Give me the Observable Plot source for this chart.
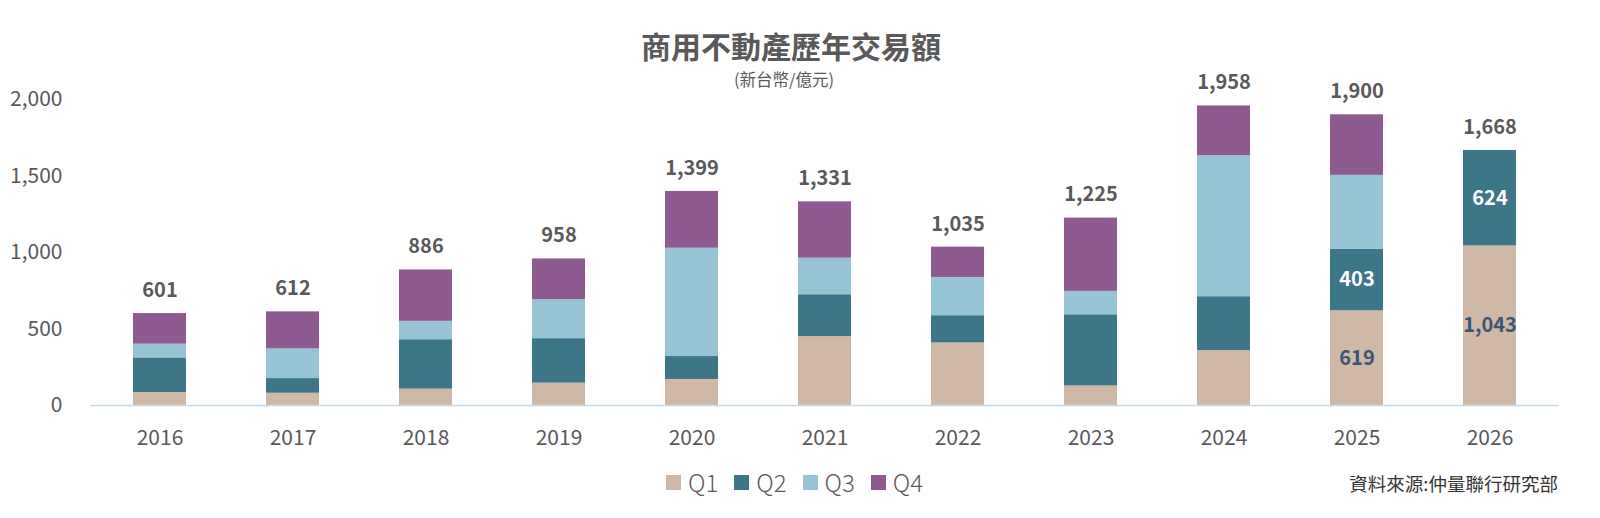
<!DOCTYPE html>
<html>
<head>
<meta charset="utf-8">
<script src="https://cdn.jsdelivr.net/npm/d3@7"></script>
<script src="https://cdn.jsdelivr.net/npm/@observablehq/plot@0.6"></script>
<style>
  html, body { margin: 0; padding: 0; background: #fff; }
  #wrap { position: relative; width: 1600px; height: 518px; overflow: hidden; font-family: 'Noto Sans CJK TC', 'Noto Sans', sans-serif; }
  #chart { position: absolute; left: 0; top: 0; }
  .title { position: absolute; left: 0; width: 1582px; top: 25px; text-align: center; font-size: 30px; font-weight: 700; color: #595959; line-height: 40px; }
  .subtitle { position: absolute; left: 0; width: 1568px; top: 68px; text-align: center; font-size: 16.5px; color: #595959; line-height: 22px; }
  .legend { position: absolute; left: 666px; top: 468px; display: flex; align-items: center; font-size: 24px; font-weight: 300; color: #595959; line-height: 28px; }
  .legend .item { display: flex; align-items: center; margin-right: 16px; }
  .legend .sw { width: 15px; height: 15px; margin-right: 7px; }
  .caption { position: absolute; right: 42px; top: 469px; font-size: 18.5px; color: #333; line-height: 28px; }
</style>
</head>
<body>
<div id="wrap">
  <div id="chart"></div>
  <div class="title">商用不動產歷年交易額</div>
  <div class="subtitle">(新台幣/億元)</div>
  <div class="legend" id="legend"></div>
  <div class="caption">資料來源:仲量聯行研究部</div>
</div>
<script>
const years = ["2016","2017","2018","2019","2020","2021","2022","2023","2024","2025","2026"];
const quarters = ["Q1","Q2","Q3","Q4"];
const colors = ["#cfb8a6","#3e7689","#96c4d4","#8f5991"];
const q1 = [85, 80, 107, 146, 170, 450, 409, 128, 359, 619, 1043];
const q2 = [226, 96, 323, 291, 150, 274, 178, 465, 352, 403, 624];
const q3 = [90, 194, 120, 255, 708, 239, 250, 153, 922, 482, null];
const q4 = [200, 242, 336, 266, 371, 368, 198, 479, 325, 396, null];
const totals = [601, 612, 886, 958, 1399, 1331, 1035, 1225, 1958, 1900, 1668];
const labeledYears = ["2025", "2026"];
const yTicks = [0, 500, 1000, 1500, 2000];

const series = [q1, q2, q3, q4];
const rows = [];
years.forEach((yr, i) => {
  quarters.forEach((q, k) => {
    const v = series[k][i];
    if (v != null) rows.push({year: yr, quarter: q, value: v});
  });
});
const totalRows = years.map((yr, i) => ({year: yr, total: totals[i]}));
const fmt = d3.format(",");

const chart = Plot.plot({
  width: 1600,
  height: 518,
  marginTop: 99,
  marginBottom: 113,
  marginLeft: 90,
  marginRight: 41,
  style: {fontFamily: "'Noto Sans CJK TC', 'Noto Sans', sans-serif", fontSize: "21px", color: "#595959", background: "transparent"},
  x: {domain: years, paddingInner: 0.6, paddingOuter: 0.3, label: null},
  y: {domain: [0, 2000], label: null},
  color: {domain: quarters, range: colors},
  marks: [
    Plot.barY(rows, Plot.stackY({x: "year", y: "value", z: "quarter", fill: "quarter", order: quarters})),
    Plot.ruleY([0], {stroke: "#c6dbe8", strokeWidth: 1.5}),
    Plot.axisY({ticks: yTicks, tickSize: 0, tickPadding: 28, tickFormat: d => fmt(d), fontSize: 21, label: null}),
    Plot.axisX({tickSize: 0, tickPadding: 25, fontSize: 21, label: null}),
    Plot.text(totalRows, {x: "year", y: "total", text: d => fmt(d.total), dy: -23, fontSize: 20, fontWeight: 700, fill: "#595959"}),
    Plot.text(rows, Plot.stackY({x: "year", y: "value", z: "quarter", order: quarters,
      text: d => (labeledYears.includes(d.year) && d.quarter === "Q1") ? fmt(d.value) : null,
      fill: "#3d5475", fontSize: 20, fontWeight: 600})),
    Plot.text(rows, Plot.stackY({x: "year", y: "value", z: "quarter", order: quarters,
      text: d => (labeledYears.includes(d.year) && d.quarter === "Q2") ? fmt(d.value) : null,
      fill: "white", fontSize: 20, fontWeight: 700}))
  ]
});
document.getElementById("chart").appendChild(chart);

const legend = document.getElementById("legend");
quarters.forEach((q, k) => {
  const it = document.createElement("div");
  it.className = "item";
  it.innerHTML = `<span class="sw" style="background:${colors[k]}"></span><span>${q}</span>`;
  legend.appendChild(it);
});
</script>
</body>
</html>
